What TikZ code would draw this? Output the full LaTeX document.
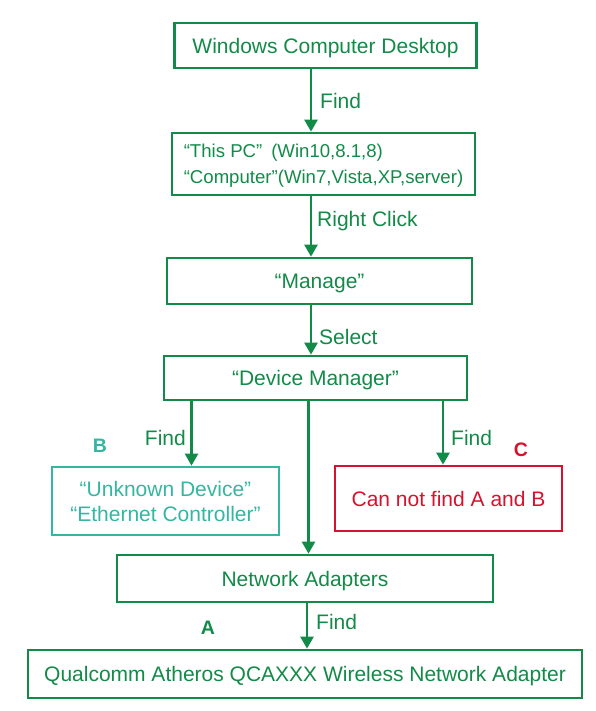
\documentclass[tikz,border=0pt]{standalone}
\usepackage{fontspec}
\setmainfont{Liberation Sans}
\usetikzlibrary{arrows.meta}
\definecolor{gr}{RGB}{18,138,72}
\definecolor{tl}{RGB}{52,182,160}
\definecolor{rd}{RGB}{214,18,46}
\tikzset{
  box/.style={draw=gr, line width=2.7pt, text=gr, inner sep=0pt, align=center, text depth=0pt},
  arr/.style={draw=gr, line width=2.5pt, -{Triangle[length=12pt,width=13pt]}},
  lbl/.style={text=gr, font=\fontsize{21}{24}\selectfont, anchor=west, inner sep=0pt},
  tag/.style={font=\fontsize{19.5}{22}\selectfont\bfseries, inner sep=0pt}
}
\begin{document}
\begin{tikzpicture}[x=1pt,y=-1pt]
\useasboundingbox (0,0) rectangle (596,711);
\node[box, minimum width=302pt, minimum height=45pt, font=\fontsize{21}{24}\selectfont] (wcd) at (325.5,45.5) {Windows Computer Desktop};
\node[box, minimum width=303pt, minimum height=62pt, font=\fontsize{18.6}{26}\selectfont, align=left] (pc) at (323.5,164) {“This PC”\hspace{9pt}(Win10,8.1,8)\\“Computer”(Win7,Vista,XP,server)};
\node[box, minimum width=305pt, minimum height=46pt, font=\fontsize{21}{24}\selectfont] (mg) at (319.5,281) {“Manage”};
\node[box, minimum width=303pt, minimum height=44pt, font=\fontsize{21}{24}\selectfont] (dm) at (315.5,378) {“Device Manager”};
\node[box, draw=tl, text=tl, minimum width=227pt, minimum height=68pt, font=\fontsize{21}{25}\selectfont] (b) at (165.5,501) {“Unknown Device”\\“Ethernet Controller”};
\node[box, draw=rd, text=rd, minimum width=227pt, minimum height=65pt, font=\fontsize{21}{24}\selectfont] (c) at (448.5,498.5) {Can not find A and B};
\node[box, minimum width=376pt, minimum height=47pt, font=\fontsize{21}{24}\selectfont] (na) at (305,578.5) {Network Adapters};
\node[box, minimum width=554pt, minimum height=48pt, font=\fontsize{21}{24}\selectfont] (q) at (305,674) {Qualcomm Atheros QCAXXX Wireless Network Adapter};
\coordinate (xm) at (311,0);
\coordinate (xl) at (191.5,0);
\coordinate (xc) at (308.5,0);
\coordinate (xr) at (443,0);
\coordinate (xa) at (307,0);
\draw[arr] (xm |- wcd.south) -- (xm |- pc.north);
\draw[arr] (xm |- pc.south) -- (xm |- mg.north);
\draw[arr] (xm |- mg.south) -- (xm |- dm.north);
\draw[arr] (xl |- dm.south) -- (xl |- b.north);
\draw[arr] (xc |- dm.south) -- (xc |- na.north);
\draw[arr] (xr |- dm.south) -- (xr |- c.north);
\draw[arr] (xa |- na.south) -- (xa |- q.north);
\node[lbl] (l1) at (320,101) {Find};
\node[lbl] (l2) at (317,221) {Right Click};
\node[lbl] (l3) at (319,337) {Select};
\node[lbl, anchor=east] (l4) at (186,438) {Find};
\node[lbl] (l5) at (451,438) {Find};
\node[lbl] (l6) at (316,622) {Find};
\node[tag, text=tl] (tb) at (100,446) {B};
\node[tag, text=rd] (tc) at (521,450) {C};
\node[tag, text=gr] (ta) at (208,628) {A};
\end{tikzpicture}
\end{document}
